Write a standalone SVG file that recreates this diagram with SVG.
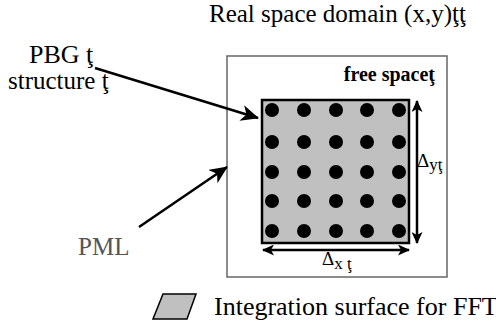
<svg xmlns="http://www.w3.org/2000/svg" width="496" height="325" viewBox="0 0 496 325">
<defs>
<style>
.t{font-family:"Liberation Serif","Times New Roman",serif;fill:#000}
.ln{stroke:#000;stroke-width:2.5;fill:none}
.dot{fill:#000}
</style>
<marker id="ah" viewBox="0 0 12 11" refX="11" refY="5.5" markerWidth="12" markerHeight="11" markerUnits="userSpaceOnUse" orient="auto-start-reverse">
<path d="M0,0 L12,5.5 L0,11 L3,5.5 Z" fill="#000"/>
</marker>
<marker id="ab" viewBox="0 0 18 16" refX="17" refY="8" markerWidth="18" markerHeight="16" markerUnits="userSpaceOnUse" orient="auto">
<path d="M0,0 L18,8 L0,16 L5,8 Z" fill="#000"/>
</marker>
</defs>
<rect width="496" height="325" fill="#fff"/>
<g id="title"><text class="t" x="209" y="22" font-size="25">Real space domain (x,y)ţţ</text></g>
<g id="domain">
<rect x="227" y="56" width="220" height="221" fill="#fff" stroke="#666" stroke-width="1.5"/>
<text class="t" x="435" y="81" font-size="20" font-weight="bold" text-anchor="end">free spaceţ</text>
</g>
<g id="pbg">
<rect x="262" y="100" width="147" height="143" fill="#c0c0c0" stroke="#000" stroke-width="2.5"/>
<g class="dot">
<circle cx="272" cy="110" r="7"/><circle cx="304" cy="110" r="7"/><circle cx="336" cy="110" r="7"/><circle cx="367" cy="110" r="7"/><circle cx="399" cy="110" r="7"/>
<circle cx="272" cy="142" r="7"/><circle cx="304" cy="142" r="7"/><circle cx="336" cy="142" r="7"/><circle cx="367" cy="142" r="7"/><circle cx="399" cy="142" r="7"/>
<circle cx="272" cy="172" r="7"/><circle cx="304" cy="172" r="7"/><circle cx="336" cy="172" r="7"/><circle cx="367" cy="172" r="7"/><circle cx="399" cy="172" r="7"/>
<circle cx="272" cy="201" r="7"/><circle cx="304" cy="201" r="7"/><circle cx="336" cy="201" r="7"/><circle cx="367" cy="201" r="7"/><circle cx="399" cy="201" r="7"/>
<circle cx="272" cy="231" r="7"/><circle cx="304" cy="231" r="7"/><circle cx="336" cy="231" r="7"/><circle cx="367" cy="231" r="7"/><circle cx="399" cy="231" r="7"/>
</g>
</g>
<g id="label-pbg">
<text class="t" x="29" y="63" font-size="26">PBG ţ</text>
<text class="t" x="8" y="89" font-size="25">structure ţ</text>
</g>
<g id="label-pml"><text class="t" x="78" y="255" font-size="25" style="fill:#555">PML</text></g>
<g id="dims">
<text class="t" x="417" y="167" font-size="19">Δ<tspan font-size="17" dy="3">yţ</tspan></text>
<text class="t" x="322" y="265" font-size="19">Δ<tspan font-size="17" dy="4">x ţ</tspan></text>
</g>
<g id="connectors">
<line class="ln" x1="95" y1="68" x2="258" y2="118" marker-end="url(#ab)"/>
<line class="ln" x1="139" y1="227" x2="227" y2="167" marker-end="url(#ab)"/>
<line class="ln" x1="417" y1="101" x2="417" y2="243" marker-start="url(#ah)" marker-end="url(#ah)"/>
<line class="ln" x1="263" y1="250" x2="409" y2="250" marker-start="url(#ah)" marker-end="url(#ah)"/>
</g>
<g id="legend">
<polygon points="163,294 196,294 187,319 153,319" fill="#c0c0c0" stroke="#000" stroke-width="1.5"/>
<text class="t" x="214" y="315" font-size="26">Integration surface for FFT ţ</text>
</g>
</svg>
